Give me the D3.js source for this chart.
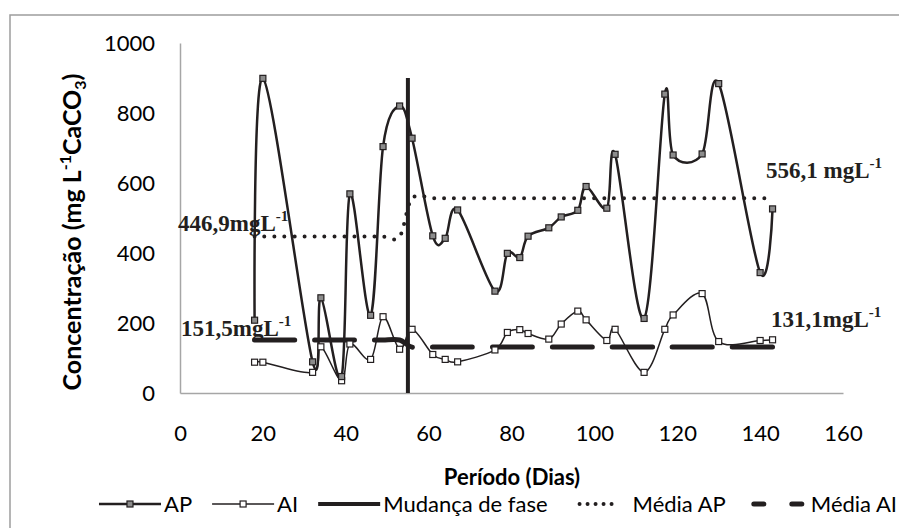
<!DOCTYPE html>
<html>
<head>
<meta charset="utf-8">
<script src="https://cdn.jsdelivr.net/npm/d3@7"></script>
<style>
  body { margin: 0; background: #fff; }
  svg { display: block; }
</style>
</head>
<body>
<div id="chart"></div>
<script>
// dias de coleta
var dias = [18, 20, 32, 34, 39, 41, 46, 49, 53, 56, 61, 64, 67, 76, 79, 82, 84, 89, 92, 96, 98, 103, 105, 112, 117, 119, 126, 130, 140, 143];
// alcalinidade parcial / intermediaria (mg L-1 CaCO3)
var valoresAP = [208, 899, 89, 272, 47, 569, 222, 704, 820, 728, 449, 442, 523, 291, 399, 387, 448, 472, 503, 522, 590, 528, 682, 213, 854, 680, 683, 884, 344, 526];
var valoresAI = [88, 88, 59, 132, 35, 140, 96, 218, 125, 182, 110, 96, 89, 123, 173, 181, 170, 154, 197, 234, 209, 150, 182, 59, 182, 223, 284, 147, 150, 152];
var mediaAP = [446.9, 446.9, 446.9, 446.9, 446.9, 446.9, 446.9, 446.9, 446.9, 556.1, 556.1, 556.1, 556.1, 556.1, 556.1, 556.1, 556.1, 556.1, 556.1, 556.1, 556.1, 556.1, 556.1, 556.1, 556.1, 556.1, 556.1, 556.1, 556.1, 556.1];
var mediaAI = [151.5, 151.5, 151.5, 151.5, 151.5, 151.5, 151.5, 151.5, 151.5, 131.1, 131.1, 131.1, 131.1, 131.1, 131.1, 131.1, 131.1, 131.1, 131.1, 131.1, 131.1, 131.1, 131.1, 131.1, 131.1, 131.1, 131.1, 131.1, 131.1, 131.1];
var mudancaX = [55, 55];
var mudancaY = [0, 900];
var xTicks = [0, 20, 40, 60, 80, 100, 120, 140, 160];
var yTicks = [0, 200, 400, 600, 800, 1000];

var W = 899, H = 528;
var ink = "#231f20", axisGray = "#a6a6a6";
var sans = "Lato, sans-serif", serif = "'Liberation Serif', 'Times New Roman', serif";
var fs = 22, fsTitulo = 25, fsPeriodo = 22;

var svg = d3.select("#chart").append("svg").attr("width", W).attr("height", H);

// moldura do grafico
svg.append("rect").attr("x", 10).attr("y", 15).attr("width", W + 20).attr("height", H + 20)
	.attr("fill", "none").attr("stroke", "#9d9d9d").attr("stroke-width", 1.5);

var x = d3.scaleLinear().domain([0, 160]).range([180, 843]);
var y = d3.scaleLinear().domain([0, 1000]).range([393, 43]);

var gx = svg.append("g").attr("transform", "translate(0," + y(0) + ")")
	.call(d3.axisBottom(x).tickValues(xTicks).tickFormat(d3.format("d")).tickSize(0).tickPadding(32));
var gy = svg.append("g").attr("transform", "translate(" + x(0) + ",0)")
	.call(d3.axisLeft(y).tickValues(yTicks).tickFormat(d3.format("d")).tickSize(0).tickPadding(25));
[gx, gy].forEach(function(g) {
	g.select(".domain").attr("stroke", axisGray).attr("stroke-width", 1.5);
	g.selectAll("text").attr("font-family", sans).attr("font-size", fs + "px").attr("fill", "#000");
});

// titulos dos eixos
var yTitle = svg.append("text").attr("transform", "translate(81,232) rotate(-90)")
	.attr("text-anchor", "middle").attr("font-family", sans).attr("font-weight", "bold")
	.attr("font-size", fsTitulo + "px").attr("fill", "#000");
yTitle.append("tspan").text("Concentração (mg L");
yTitle.append("tspan").attr("font-size", "16px").attr("dy", -10).text("-1");
yTitle.append("tspan").attr("dy", 10).text("CaCO");
yTitle.append("tspan").attr("font-size", "16px").attr("dy", 5).text("3");
yTitle.append("tspan").attr("dy", -5).text(")");

svg.append("text").attr("x", 512).attr("y", 485).attr("text-anchor", "middle")
	.attr("font-family", sans).attr("font-weight", "bold").attr("font-size", fsPeriodo + "px")
	.text("Período (Dias)");

var curve = d3.curveCardinal.tension(0);
var plot = svg.append("g");

function serie(vals) {
	return d3.line().curve(curve)
		.x(function(d, i) { return x(dias[i]); })
		.y(function(d) { return y(d); })(vals);
}

// medias (atras das series)
plot.append("path").attr("d", serie(mediaAP)).attr("fill", "none").attr("stroke", ink)
	.attr("stroke-width", 4).attr("stroke-linecap", "round").attr("stroke-dasharray", "0 10");
plot.append("path").attr("d", serie(mediaAI)).attr("fill", "none").attr("stroke", ink)
	.attr("stroke-width", 5).attr("stroke-linecap", "round").attr("stroke-dasharray", "40 20");

plot.append("path").attr("d", serie(valoresAI)).attr("fill", "none").attr("stroke", ink).attr("stroke-width", 1.5);
plot.append("path").attr("d", serie(valoresAP)).attr("fill", "none").attr("stroke", ink).attr("stroke-width", 2.5);

// mudanca de fase
plot.append("line").attr("x1", x(mudancaX[0])).attr("x2", x(mudancaX[1]))
	.attr("y1", y(mudancaY[0])).attr("y2", y(mudancaY[1]))
	.attr("stroke", ink).attr("stroke-width", 4);

var ms = 6;
plot.selectAll("rect.ai").data(valoresAI).enter().append("rect").attr("class", "ai")
	.attr("x", function(d, i) { return x(dias[i]) - ms / 2; }).attr("y", function(d) { return y(d) - ms / 2; })
	.attr("width", ms).attr("height", ms).attr("fill", "#fff").attr("stroke", ink).attr("stroke-width", 1.2);
plot.selectAll("rect.ap").data(valoresAP).enter().append("rect").attr("class", "ap")
	.attr("x", function(d, i) { return x(dias[i]) - ms / 2; }).attr("y", function(d) { return y(d) - ms / 2; })
	.attr("width", ms).attr("height", ms).attr("fill", "#8c8c8c").attr("stroke", ink).attr("stroke-width", 1.2);

// rotulos das medias
function rotulo(px, py, valor) {
	var t = svg.append("text").attr("x", px).attr("y", py).attr("font-family", serif)
		.attr("font-weight", "bold").attr("font-size", "23px").attr("fill", ink);
	t.append("tspan").text(valor);
	t.append("tspan").attr("font-size", "15px").attr("dy", -10).text("-1");
}
rotulo(178, 231, "446,9mgL");
rotulo(181, 336, "151,5mgL");
rotulo(766, 178, "556,1 mgL");
rotulo(771, 327, "131,1mgL");

// legenda
var legY = 504;
var leg = svg.append("g");
var itens = [
	{ nome: "AP", tipo: "ap" },
	{ nome: "AI", tipo: "ai" },
	{ nome: "Mudança de fase", tipo: "fase" },
	{ nome: "Média AP", tipo: "mediaAP" },
	{ nome: "Média AI", tipo: "mediaAI" }
];
var passo = 20, cx = 0;
itens.forEach(function(it) {
	var g = leg.append("g");
	var sym = g.append("line").attr("x1", cx).attr("x2", cx + 62).attr("y1", legY).attr("y2", legY)
		.attr("stroke", ink);
	if (it.tipo === "ap") sym.attr("stroke-width", 2.5);
	if (it.tipo === "ai") sym.attr("stroke-width", 1.5);
	if (it.tipo === "fase") sym.attr("stroke-width", 4);
	if (it.tipo === "mediaAP") sym.attr("x1", cx + 12).attr("x2", cx + 52).attr("stroke-width", 4)
		.attr("stroke-linecap", "round").attr("stroke-dasharray", "0 8");
	if (it.tipo === "mediaAI") sym.attr("x1", cx + 8).attr("x2", cx + 56).attr("stroke-width", 5)
		.attr("stroke-linecap", "round").attr("stroke-dasharray", "10 28");
	if (it.tipo === "ap" || it.tipo === "ai") {
		g.append("rect").attr("x", cx + 31 - ms / 2).attr("y", legY - ms / 2).attr("width", ms).attr("height", ms)
			.attr("fill", it.tipo === "ap" ? "#8c8c8c" : "#fff").attr("stroke", ink).attr("stroke-width", 1.2);
	}
	var t = g.append("text").attr("x", cx + 65).attr("y", legY + fs * 0.36).attr("font-family", sans)
		.attr("font-size", fs + "px").text(it.nome);
	cx = cx + 65 + t.node().getComputedTextLength() + passo;
});
// alinha a legenda pela direita
var fim = cx - passo;
leg.attr("transform", "translate(" + (897 - fim) + ",0)");
</script>
</body>
</html>
